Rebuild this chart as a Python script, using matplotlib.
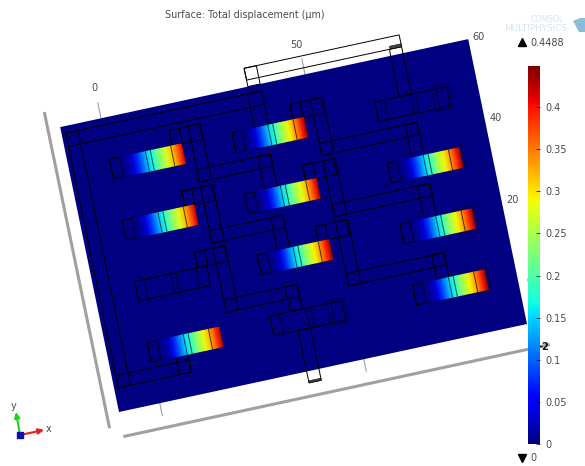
import matplotlib
matplotlib.use('Agg')
import matplotlib.pyplot as plt
import numpy as np
from matplotlib.patches import Polygon, Rectangle
from matplotlib.transforms import Affine2D

# all geometry in plate coordinates (um), plate is 100 x 70
plate_w = 100
plate_h = 70

# beams: left end x, centre y, tip displacement (None = no colour)
beam_x = [10, 10, 10, 10, 40, 40, 40, 40, 75, 75, 75, 75]
beam_y = [57.5, 42.5, 27.5, 12.5, 57.5, 42.5, 27.5, 12.5, 57.5, 42.5, 27.5, 12.5]
beam_tip = [0.41, 0.42, None, 0.43, 0.44, 0.43, 0.44, None, None, 0.44, 0.44, 0.44]
beam_len = 17.6
beam_w = 4.8

# displacement along a beam, stations measured from the left end
stations = [2.4, 4.0, 5.5, 7.0, 8.7, 10.0, 11.5, 13.5, 15.0, 16.5, 17.6]
profile = [0.0, 0.01, 0.04, 0.09, 0.15, 0.18, 0.235, 0.29, 0.335, 0.39, 0.44]
# lines across the beam
cross_lines = [0, 2.4, 8.8, 10.0, 15.0]

# wiring rectangles: x, y, w, h
wires = [
    (1, 65, 48, 3.3), (1, 5.7, 3, 62.6), (45.5, 60, 3.5, 8.3),
    (1, 5.7, 18, 3), (16, 5.7, 3, 5),
    # column 1 to column 2
    (25.4, 59.9, 2.5, 3.8), (25.4, 59.9, 7.4, 3.8), (30, 50, 3, 13.7), (30, 50, 18, 3), (45, 45, 3, 8),
    (25.4, 44.9, 2.5, 3.8), (25.4, 44.9, 7.4, 3.8), (30, 35, 3, 13.7), (30, 35, 18, 3), (45, 30, 3, 8),
    (25.4, 29.9, 2.5, 3.8), (25.4, 29.9, 7.4, 3.8), (30, 18, 3, 15.7), (30, 18, 18, 3), (45, 15, 3, 6),
    # column 2 to column 3
    (55, 59.9, 2.5, 3.8), (55, 59.9, 7.6, 3.8), (60, 50, 3, 13.7), (60, 50, 24, 3), (81, 45, 3, 8),
    (55, 44.9, 2.5, 3.8), (55, 44.9, 7.6, 3.8), (60, 35, 3, 13.7), (60, 35, 24, 3), (81, 30, 3, 8),
    (55, 29.9, 2.5, 3.8), (55, 29.9, 7.6, 3.8), (60, 18, 3, 15.7), (60, 18, 24, 3), (81, 15, 3, 6),
    # pads at the top and the bottom
    (46, 71.6, 38, 2.9), (46, 70, 3, 4.5), (81, 60, 3, 11.6), (46, -2.8, 3, 12.9),
]
# faint outlines at the beam ends
brackets = [(89, 54.6, 4.2, 6), (89, 39.6, 4.2, 6), (89, 24.6, 4.2, 6), (89, 9.6, 4.2, 6),
            (54, 9.6, 4.2, 6)]
# dark little tabs at the pad ends
tabs = [(81.2, 71.6, 2.8, 0.7), (46, -2.8, 3, 0.5)]

x_ticks = [10, 60]
x_label_pos = [10, 59.3]
x_labels = ['0', '50']
y_ticks = [70, 50, 30, 10]
y_labels = ['60', '40', '20', '0']

cbar_ticks = [0, 0.05, 0.1, 0.15, 0.2, 0.25, 0.3, 0.35, 0.4]
cbar_labels = ['0', '0.05', '0.1', '0.15', '0.2', '0.25', '0.3', '0.35', '0.4']
vmax = 0.4488

text_grey = '#4a4a4a'
axis_grey = '#a0a0a0'
wire_lw = 0.7

fig = plt.figure(figsize=(5.85, 4.66), dpi=100)
ax = fig.add_axes([0, 0, 1, 1])
ax.set_xlim(0, 585)
ax.set_ylim(466, 0)
ax.axis('off')

# plate coordinates to picture pixels
to_px = Affine2D.from_values(4.08, -0.88, -0.84, -4.07, 119, 412)
model = to_px + ax.transData

cmap = plt.get_cmap('jet')
norm = plt.Normalize(0, vmax)

# grey box edges behind the plate
ax.plot([-3, -3], [-3, 74], color=axis_grey, lw=2.2, transform=model, zorder=1)
ax.plot([0.2, 104], [-6, -6], color=axis_grey, lw=2.2, transform=model, zorder=1)

for xt in x_ticks:
    ax.plot([xt, xt], [70, 73.8], color=axis_grey, lw=0.8, transform=model, zorder=1)
    ax.plot([xt, xt], [-3, 0], color=axis_grey, lw=0.8, transform=model, zorder=1)

ax.add_patch(Polygon([(0, 0), (plate_w, 0), (plate_w, plate_h), (0, plate_h)],
                     facecolor=cmap(0.0), edgecolor='none', transform=model, zorder=2))

for x, y, w, h in wires:
    ax.add_patch(Rectangle((x, y), w, h, fill=False, edgecolor='black', lw=wire_lw,
                           transform=model, zorder=3))
for x, y, w, h in brackets:
    ax.add_patch(Rectangle((x, y), w, h, fill=False, edgecolor='black', lw=0.5, alpha=0.6,
                           transform=model, zorder=3))
for x, y, w, h in tabs:
    ax.add_patch(Rectangle((x, y), w, h, facecolor='#444444', edgecolor='black', lw=0.4,
                           transform=model, zorder=3))

for bx, by, tip in zip(beam_x, beam_y, beam_tip):
    ax.add_patch(Rectangle((bx, by - beam_w / 2), beam_len, beam_w, fill=False,
                           edgecolor='black', lw=wire_lw, transform=model, zorder=3))
    if tip is not None:
        xs = bx + np.array(stations)
        X = np.vstack([xs, xs])
        Y = np.vstack([np.full(len(xs), by - beam_w / 2), np.full(len(xs), by + beam_w / 2)])
        vals = np.array(profile) * tip / profile[-1]
        ax.pcolormesh(X, Y, np.vstack([vals, vals]), shading='gouraud', cmap=cmap,
                      norm=norm, transform=model, zorder=4)
    for c in cross_lines:
        ax.plot([bx + c, bx + c], [by - beam_w / 2, by + beam_w / 2], color='black',
                lw=0.7, alpha=0.7, transform=model, zorder=5)

ax.set_xlim(0, 585)
ax.set_ylim(466, 0)

# axis numbers
for xp, lab in zip(x_label_pos, x_labels):
    ax.text(xp, 77.4, lab, color=text_grey, fontsize=7, ha='center', va='center',
            transform=model, zorder=6)
for yt, lab in zip(y_ticks, y_labels):
    ax.text(102.6, yt, lab, color=text_grey, fontsize=7, ha='center', va='center',
            transform=model, zorder=6)
ax.text(544, 347, '-2', color='#111111', fontsize=7, fontweight='bold', ha='center',
        va='center', zorder=6)

ax.text(245, 15, 'Surface: Total displacement (µm)', color=text_grey, fontsize=6.95,
        ha='center', va='center')

# max / min readout
ax.plot([522], [42], marker='^', color='black', ms=5.5, zorder=6)
ax.text(530, 42.5, '0.4488', color=text_grey, fontsize=7, va='center')
ax.plot([522], [458], marker='v', color='black', ms=5.5, zorder=6)
ax.text(530, 458, '0', color=text_grey, fontsize=7, va='center')

# logo
ax.text(547, 19.5, 'COMSOL', color='#d5e3ec', fontsize=5.6, ha='center', va='center')
ax.text(536, 28.5, 'MULTIPHYSICS', color='#d5e3ec', fontsize=6.4, ha='center', va='center')
ax.add_patch(Polygon([(573, 21), (580, 18), (585, 18), (585, 32), (579, 32)],
                     facecolor='#8dbcd6', edgecolor='none'))

# orientation triad
ax.annotate('', xy=(44, 430), xytext=(20, 435),
            arrowprops=dict(arrowstyle='-|>', color='#e02020', lw=1.5, mutation_scale=8, shrinkA=0, shrinkB=0))
ax.annotate('', xy=(16, 412), xytext=(20, 435),
            arrowprops=dict(arrowstyle='-|>', color='#20d020', lw=1.5, mutation_scale=8, shrinkA=0, shrinkB=0))
ax.plot([20], [435], marker='s', color='#1010b0', ms=4, zorder=6)
ax.text(49, 429, 'x', color=text_grey, fontsize=7, ha='center', va='center')
ax.text(14, 406, 'y', color=text_grey, fontsize=7, ha='center', va='center')

# colour bar
cax = fig.add_axes([528 / 585, 1 - 444 / 466, 12 / 585, 378 / 466])
cbar = fig.colorbar(plt.cm.ScalarMappable(norm=norm, cmap=cmap), cax=cax, ticks=cbar_ticks)
cbar.ax.set_yticklabels(cbar_labels)
cbar.ax.tick_params(direction='in', length=3, width=0.5, labelsize=7, labelcolor=text_grey,
                    pad=4, color='black')
cbar.outline.set_visible(False)

fig.savefig('out.png', dpi=100)
